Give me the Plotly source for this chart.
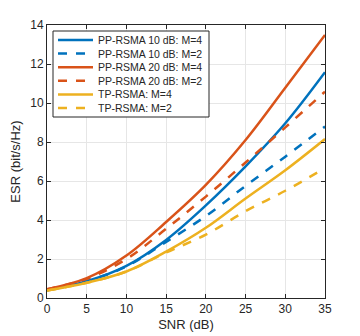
import plotly.graph_objects as go

# data
snr = [0, 5, 10, 15, 20, 25, 30, 35]

pp10_m4 = [0.40, 0.86, 1.65, 2.98, 4.75, 6.75, 8.96, 11.58]
pp10_m2 = [0.40, 0.86, 1.62, 2.88, 4.20, 5.75, 7.25, 8.79]
pp20_m4 = [0.45, 1.02, 2.18, 3.90, 5.80, 8.10, 10.78, 13.49]
pp20_m2 = [0.45, 0.98, 2.00, 3.55, 5.20, 6.95, 8.75, 10.58]
tp_m4 = [0.38, 0.78, 1.36, 2.38, 3.60, 5.10, 6.55, 8.15]
tp_m2 = [0.38, 0.78, 1.36, 2.33, 3.25, 4.45, 5.50, 6.66]

names = ["PP-RSMA 10 dB: M=4", "PP-RSMA 10 dB: M=2",
         "PP-RSMA 20 dB: M=4", "PP-RSMA 20 dB: M=2",
         "TP-RSMA: M=4", "TP-RSMA: M=2"]

blue = "#0072BD"
red = "#D95319"
yellow = "#EDB120"
dark = "#262626"

series = [
    (pp10_m4, blue, "solid"),
    (pp10_m2, blue, "dash"),
    (pp20_m4, red, "solid"),
    (pp20_m2, red, "dash"),
    (tp_m4, yellow, "solid"),
    (tp_m2, yellow, "dash"),
]

fig = go.Figure()
for name, (vals, col, dash) in zip(names, series):
    fig.add_trace(go.Scatter(
        x=snr, y=vals, name=name, mode="lines", showlegend=False,
        line=dict(color=col, width=2.5, dash=dash, shape="spline",
                  smoothing=1.0)))

# page body has an 8px margin, so the figure is shrunk to compensate
OFF = 8
W, H = 360 - OFF, 336 - OFF
ml, mr, mt, mb = 47 - OFF, 35, 25 - OFF, 38
pw, ph = W - ml - mr, H - mt - mb


# screen pixel -> paper coords
def px(x):
    return (x - OFF - ml) / pw


def py(y):
    return (H - mb - (y - OFF)) / ph


# matlab-like compact legend box (plotly's own rows are too tall)
fig.add_shape(type="rect", xref="paper", yref="paper",
              x0=px(53), x1=px(209), y0=py(117), y1=py(31),
              fillcolor="white", line=dict(color=dark, width=1), layer="above")
for i, (name, (vals, col, dash)) in enumerate(zip(names, series)):
    yy = py(40 + 13.6 * i)
    fig.add_shape(type="line", xref="paper", yref="paper",
                  x0=px(58), x1=px(93), y0=yy, y1=yy, layer="above",
                  line=dict(color=col, width=2.5, dash=dash))
    fig.add_annotation(x=px(96), y=yy, xref="paper", yref="paper",
                       text=name, showarrow=False, xanchor="left",
                       yanchor="middle", font=dict(size=10.5, color=dark))

axis_style = dict(
    showline=True, linecolor=dark, linewidth=1, mirror="ticks",
    ticks="inside", ticklen=4, tickcolor=dark,
    showgrid=True, gridcolor="#e6e6e6", gridwidth=1,
    zeroline=False, tickfont=dict(size=12, color=dark), automargin=False,
)

fig.update_xaxes(range=[0, 35], dtick=5, title=dict(
    text="SNR (dB)", font=dict(size=13, color=dark), standoff=4),
    **axis_style)
fig.update_yaxes(range=[0, 14], dtick=2, title=dict(
    text="ESR (bit/s/Hz)", font=dict(size=13, color=dark), standoff=8),
    **axis_style)

fig.update_layout(
    width=W, height=H,
    margin=dict(l=ml, r=mr, t=mt, b=mb),
    paper_bgcolor="white", plot_bgcolor="white",
    font=dict(family="Liberation Sans, Arial, sans-serif", color=dark),
    showlegend=False,
)

fig.write_html("out.html")
